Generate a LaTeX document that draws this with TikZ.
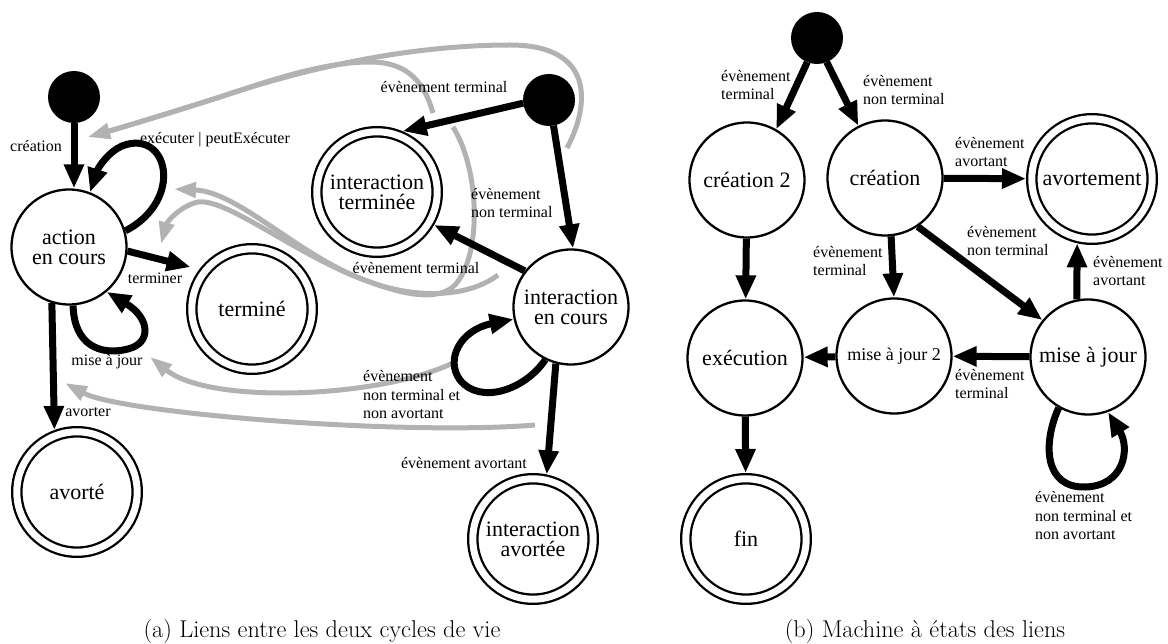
\documentclass[tikz,border=0pt]{standalone}
\usepackage{fontspec}
\newfontfamily\tms{Liberation Serif}
\usetikzlibrary{arrows.meta}
\definecolor{lgray}{RGB}{178,178,178}
\begin{document}
\begin{tikzpicture}[x=1pt,y=-1pt,
  stnode/.style={circle, draw, line width=2.3pt, minimum size=115pt, inner sep=0pt, outer sep=1.15pt, align=center, font=\tms\fontsize{22}{20}\selectfont},
  accnode/.style={stnode, double, double distance=7pt, minimum size=120.4pt, outer sep=5.8pt},
  initnode/.style={circle, fill=black, minimum size=52pt, inner sep=0pt, outer sep=0pt},
  elabel/.style={inner sep=0pt, align=left, font=\tms\fontsize{16}{18.5}\selectfont},
  blackarrow/.style={line width=7pt, -{Triangle[length=24pt,width=19pt]}},
  grayarrow/.style={draw=lgray, line width=5pt, -{Triangle[length=22pt,width=15pt]}},
  captext/.style={inner sep=0pt, font=\fontsize{24.3}{29}\selectfont}]
\useasboundingbox (0,0) rectangle (1168,644);

% ---------- panel (a) ----------
\node[initnode] (i1) at (74,97) {};
\node[stnode] (ac) at (69,247) {action\\en cours};
\node[accnode] (te) at (252,309) {terminé};
\node[accnode] (av) at (77,492) {avorté};
\node[accnode] (it) at (377,192) {interaction\\terminée};
\node[initnode] (i2) at (549,100) {};
\node[stnode] (ic) at (571,307) {interaction\\en cours};
\node[accnode] (ia) at (533,539) {interaction\\avortée};

% gray links (drawn first)
\coordinate (gA) at (567,148);
\coordinate (gB) at (433,113);
\coordinate (gC) at (498,275);
\coordinate (gD) at (453,127);
\coordinate (gE) at (453,363);
\coordinate (gF) at (535,425);
\coordinate (tCre) at (88,137);
\coordinate (tExe) at (174,189);
\coordinate (tTer) at (161,244);
\coordinate (tMaj) at (150,357);
\coordinate (tAvo) at (65,383);

\draw[grayarrow] (gA) .. controls (590,105) and (595,45) .. (510,45) .. controls (430,45) and (330,60) .. (220,97) .. controls (170,113) and (120,128) .. (tCre);
\draw[grayarrow] (gB) .. controls (425,85) and (410,62) .. (370,62) .. controls (320,62) and (260,84) .. (220,97) .. controls (170,113) and (120,128) .. (tCre);
\draw[grayarrow] (gC) .. controls (465,300) and (410,297) .. (370,282) .. controls (300,258) and (240,192) .. (tExe);
\draw[grayarrow] (gD) .. controls (480,170) and (482,255) .. (455,285) .. controls (440,300) and (410,297) .. (370,282) .. controls (300,258) and (228,198) .. (198,202) .. controls (180,206) and (167,222) .. (tTer);
\draw[grayarrow] (gE) .. controls (380,398) and (210,405) .. (tMaj);
\draw[grayarrow] (gF) .. controls (400,436) and (120,413) .. (tAvo);

% black transitions
\draw[blackarrow] (i1) -- (i1 |- ac.north);
\node[elabel] (lcre) at (36,146) {création};
\draw[blackarrow] (ac.16) .. controls (185,200) and (168,128) .. (122,146) .. controls (108,152) and (98,168) .. (ac.69);
\node[elabel] (lexe) at (215,140) {exécuter | peutExécuter};
\draw[blackarrow, shorten >=9pt] (ac.-4) -- (te.143);
\node[elabel] (lter) at (155,278) {terminer};
\draw[blackarrow] (ac.-86) .. controls (74,345) and (100,356) .. (128,349) .. controls (152,343) and (150,318) .. (ac.-50);
\node[elabel] (lmaj) at (107,362) {mise à jour};
\draw[blackarrow] (ac.-107) -- (av.110);
\node[elabel] (lavo) at (88,412) {avorter};

\draw[blackarrow] (i2.187) -- (it.67);
\node[elabel] (let1) at (444,87) {évènement terminal};
\draw[blackarrow] (i2.-80) -- (ic.88);
\node[elabel, anchor=west] (lent) at (471,203) {évènement\\non terminal};
\draw[blackarrow] (ic.142) -- (it.-30);
\node[elabel] (let2) at (416,268) {évènement terminal};
\draw[blackarrow] (ic.-116) .. controls (525,390) and (480,405) .. (460,380) .. controls (445,360) and (460,330) .. (ic.-168);
\node[elabel, anchor=west] (lnn) at (363,395) {évènement\\non terminal et\\non avortant};
\draw[blackarrow] (ic.-105) -- (ia.78);
\node[elabel] (leav) at (464,463) {évènement avortant};

\node[captext] (capa) at (322,631) {(a) Liens entre les deux cycles de vie};

% ---------- panel (b) ----------
\node[initnode] (i3) at (817,38) {};
\node[stnode] (c2) at (747,180) {création 2};
\node[stnode] (cr) at (885,178) {création};
\node[accnode] (ao) at (1092,179) {avortement};
\node[stnode] (ex) at (745,358) {exécution};
\node[stnode, font=\tms\fontsize{18}{20}\selectfont] (m2) at (894,356) {mise à jour 2};
\node[stnode] (mj) at (1088,357) {mise à jour};
\node[accnode] (fi) at (746,539) {fin};

\draw[blackarrow] (i3.-112) -- (c2.60);
\node[elabel, anchor=west] (lb1) at (721,85) {évènement\\terminal};
\draw[blackarrow] (i3.-68) -- (cr.117);
\node[elabel, anchor=west] (lb2) at (863,90) {évènement\\non terminal};
\draw[blackarrow] (cr) -- (ao);
\node[elabel, anchor=west] (lb3) at (955,152) {évènement\\avortant};
\draw[blackarrow] (cr.-56) -- (mj.141);
\node[elabel, anchor=west] (lb4) at (967,241) {évènement\\non terminal};
\draw[blackarrow] (cr.-84) -- (m2.90);
\node[elabel, anchor=west] (lb5) at (813,261) {évènement\\terminal};
\draw[blackarrow] (c2) -- (ex);
\draw[blackarrow] (mj.101) -- (ao.-103);
\node[elabel, anchor=west] (lb6) at (1093,271) {évènement\\avortant};
\draw[blackarrow] (mj) -- (m2);
\node[elabel, anchor=west] (lb7) at (955,384) {évènement\\terminal};
\draw[blackarrow] (m2) -- (ex);
\draw[blackarrow] (ex) -- (fi);
\draw[blackarrow] (mj.-120) .. controls (1042,445) and (1045,488) .. (1085,487) .. controls (1125,486) and (1130,448) .. (mj.-70);
\node[elabel, anchor=west] (lb8) at (1035,516) {évènement\\non terminal et\\non avortant};

\node[captext] (capb) at (925,631) {(b) Machine à états des liens};
\end{tikzpicture}
\end{document}
